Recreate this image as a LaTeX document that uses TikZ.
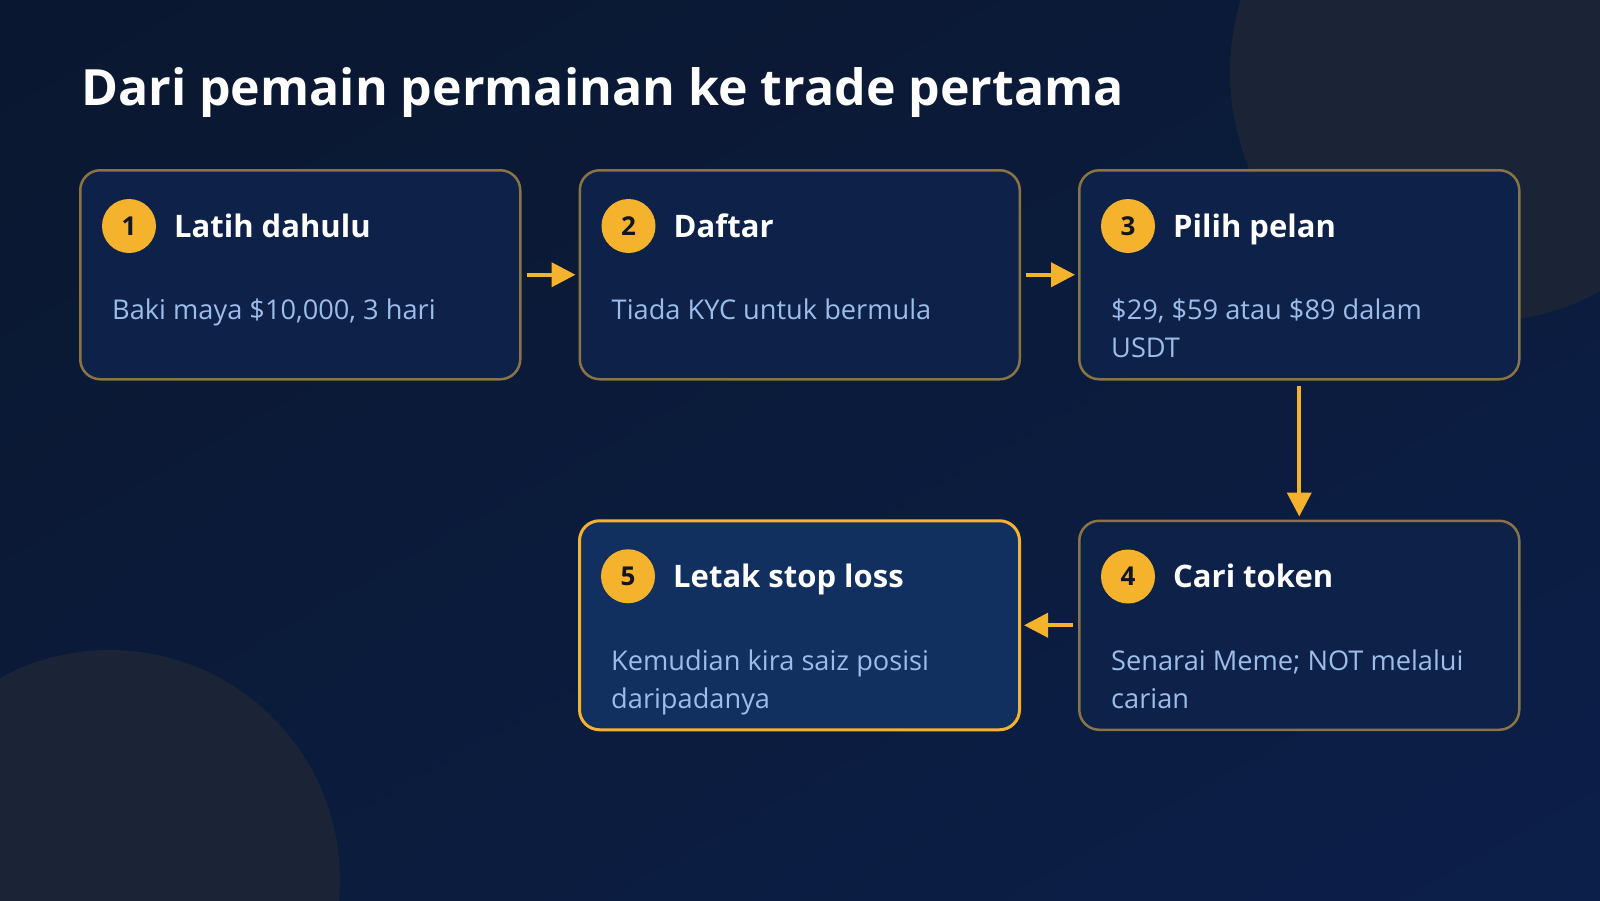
\documentclass[tikz,border=0pt]{standalone}
\usepackage{fontspec}
\setmainfont{Open Sans}
\usetikzlibrary{positioning,arrows.meta,shadings}

\definecolor{bgtop}{HTML}{0A1730}
\definecolor{bgmid}{HTML}{0B1B3A}
\definecolor{bgbot}{HTML}{0C1F4A}
\definecolor{glow}{HTML}{1A2436}
\definecolor{cardfill}{HTML}{0E2249}
\definecolor{hotfill}{HTML}{11305F}
\definecolor{cardline}{HTML}{8A7443}
\definecolor{amber}{HTML}{F5B22D}
\definecolor{bodytext}{HTML}{9CBCEA}
\definecolor{badgetext}{HTML}{121620}

\begin{document}
\begin{tikzpicture}[x=1pt,y=-1pt,
    card/.style={draw=cardline, line width=2.5pt, fill=cardfill, rounded corners=20pt,
        minimum width=440pt, minimum height=209pt, inner sep=0pt},
    hot/.style={card, draw=amber, line width=3pt, fill=hotfill},
    badge/.style={circle, fill=amber, minimum size=54pt, inner sep=0pt, text=badgetext,
        font=\fontsize{26}{26}\selectfont\bfseries},
    head/.style={anchor=base west, inner sep=0pt, text=white,
        font=\fontsize{31}{31}\selectfont\bfseries},
    body/.style={anchor=north west, inner sep=0pt, text=bodytext, text width=372pt,
        align=flush left, font=\fontsize{27.2}{38}\selectfont},
    flow/.style={draw=amber, line width=4pt, -{Triangle[length=24pt,width=24pt]},
        shorten <=5pt, shorten >=3pt}]
    \clip (0,0) rectangle (1600,900);
    \shade[upper left=bgtop, upper right=bgmid, lower left=bgmid, lower right=bgbot]
        (0,0) rectangle (1600,900);
    \fill[glow] (1480,72) circle[radius=250];
    \fill[glow] (110,880) circle[radius=230];

    \node[anchor=base west, inner sep=0pt, text=white, font=\fontsize{50}{50}\selectfont\bfseries]
        (title) at (81,105) {Dari pemain permainan ke trade pertama};

    % the five steps
    \node[card, anchor=north west] (p1) at (79,169) {};
    \node[card, right=57pt of p1] (p2) {};
    \node[card, right=57pt of p2] (p3) {};
    \node[card, below=139pt of p3] (p4) {};
    \node[hot, left=57pt of p4] (p5) {};

    \node[badge] (n1) at ([xshift=50pt,yshift=-57pt]p1.north west) {1};
    \node[head] (h1) at ([xshift=95pt,yshift=-68pt]p1.north west) {Latih dahulu};
    \node[body] (t1) at ([xshift=33pt,yshift=-124pt]p1.north west) {\strut Baki maya \$10,000, 3 hari};

    \node[badge] (n2) at ([xshift=50pt,yshift=-57pt]p2.north west) {2};
    \node[head] (h2) at ([xshift=95pt,yshift=-68pt]p2.north west) {Daftar};
    \node[body] (t2) at ([xshift=33pt,yshift=-124pt]p2.north west) {\strut Tiada KYC untuk bermula};

    \node[badge] (n3) at ([xshift=50pt,yshift=-57pt]p3.north west) {3};
    \node[head] (h3) at ([xshift=95pt,yshift=-68pt]p3.north west) {Pilih pelan};
    \node[body] (t3) at ([xshift=33pt,yshift=-124pt]p3.north west) {\strut \$29, \$59 atau \$89 dalam USDT};

    \node[badge] (n4) at ([xshift=50pt,yshift=-57pt]p4.north west) {4};
    \node[head] (h4) at ([xshift=95pt,yshift=-68pt]p4.north west) {Cari token};
    \node[body] (t4) at ([xshift=33pt,yshift=-124pt]p4.north west) {\strut Senarai Meme; NOT melalui carian};

    \node[badge] (n5) at ([xshift=50pt,yshift=-57pt]p5.north west) {5};
    \node[head] (h5) at ([xshift=95pt,yshift=-68pt]p5.north west) {Letak stop loss};
    \node[body] (t5) at ([xshift=33pt,yshift=-124pt]p5.north west) {\strut Kemudian kira saiz posisi daripadanya};

    \draw[flow] (p1) -- (p2);
    \draw[flow] (p2) -- (p3);
    \draw[flow] (p3) -- (p4);
    \draw[flow] (p4) -- (p5);
\end{tikzpicture}
\end{document}
